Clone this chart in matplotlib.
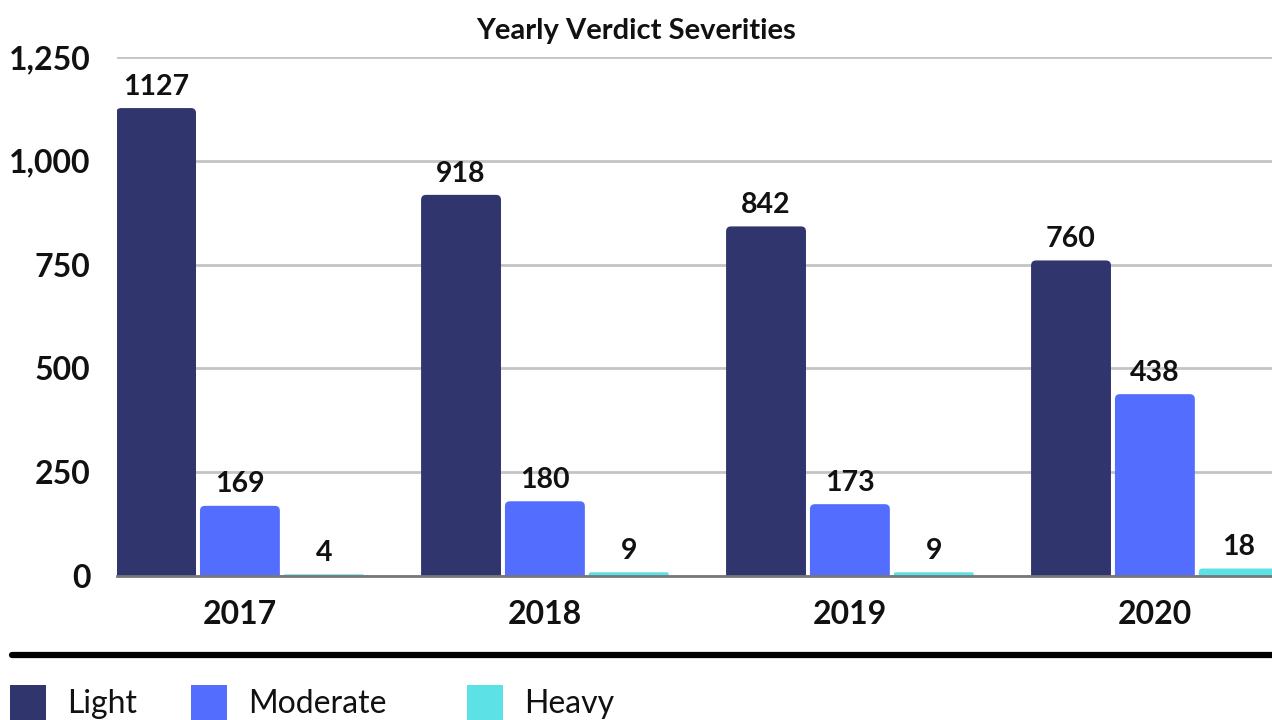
import matplotlib.pyplot as plt
from matplotlib.patches import FancyBboxPatch, Rectangle
from matplotlib.lines import Line2D
from matplotlib.ticker import FuncFormatter

# datos
years = ["2017", "2018", "2019", "2020"]
series = ["Light", "Moderate", "Heavy"]
light = [1127, 918, 842, 760]
moderate = [169, 180, 173, 438]
heavy = [4, 9, 9, 18]
colors = ["#31356e", "#536dfe", "#5ce1e6"]

plt.rcParams['font.family'] = ['Lato', 'DejaVu Sans']

fig = plt.figure(figsize=(12.72, 7.2), dpi=100)
ax = fig.add_axes([117 / 1272, 0.2, 1 - 117 / 1272, (576 - 57) / 720])

ax.set_xlim(-0.403, 3.384)
ax.set_ylim(0, 1250)

width = 0.262
step = 0.275
# escala px por unidad para redondear las esquinas sin deformarlas
px_x = 305.0
px_y = (576 - 57) / 1250.0
r = 5 / px_x
aspect = px_x / px_y

for k, vals in enumerate([light, moderate, heavy]):
    for i, v in enumerate(vals):
        xc = i + (k - 1) * step
        rr = min(r, (v * px_y / 2) / px_x)
        p = FancyBboxPatch((xc - width / 2, -r * aspect), width, v + r * aspect,
                           boxstyle=f"round,pad=0,rounding_size={rr}",
                           mutation_aspect=aspect, facecolor=colors[k],
                           edgecolor="none", zorder=3, clip_on=True)
        ax.add_patch(p)
        ax.annotate(str(v), (xc, v), xytext=(0, 6), textcoords="offset points",
                    ha="center", va="bottom", fontsize=20.5, fontweight="bold",
                    color="#111111", zorder=4)

ax.set_yticks([0, 250, 500, 750, 1000, 1250])
ax.yaxis.set_major_formatter(FuncFormatter(lambda v, p: f"{int(v):,}"))
ax.set_xticks(range(len(years)))
ax.set_xticklabels(years)
ax.tick_params(axis="both", length=0, labelsize=23)
ax.tick_params(axis="x", pad=17)
ax.tick_params(axis="y", pad=19)
for lab in ax.get_xticklabels() + ax.get_yticklabels():
    lab.set_fontweight("bold")
    lab.set_color("#111111")

ax.grid(axis="y", color="#c4c4c4", linewidth=2, zorder=0)
ax.set_axisbelow(True)
for s in ["top", "right", "left"]:
    ax.spines[s].set_visible(False)
ax.spines["bottom"].set_color("#777777")
ax.spines["bottom"].set_linewidth(2)
ax.spines["bottom"].set_zorder(5)

fig.text(0.5, 1 - 31 / 720, "Yearly Verdict Severities", ha="center", va="center",
         fontsize=21, fontweight="bold", color="#111111")

# linea negra gruesa
fig.add_artist(Line2D([12 / 1272, 1.0], [1 - 655 / 720] * 2, color="black",
                      linewidth=4.5, solid_capstyle="round"))

# leyenda manual
leg_x = [10, 191, 467]
for k, name in enumerate(series):
    fig.add_artist(Rectangle((leg_x[k] / 1272, 0), 36 / 1272, 35 / 720,
                             facecolor=colors[k], edgecolor="none"))
    fig.text((leg_x[k] + 57) / 1272, 1 - 704 / 720, name, ha="left", va="center",
             fontsize=23, color="#111111")

fig.savefig("out.png", dpi=100)
